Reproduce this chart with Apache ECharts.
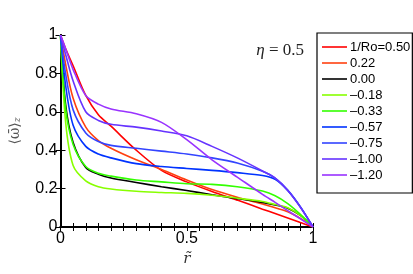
<!DOCTYPE html>
<html><head><meta charset="utf-8">
<script src="https://cdn.jsdelivr.net/npm/echarts@6/dist/echarts.min.js"></script>
<style>html,body{margin:0;padding:0;background:#fff}#c{width:413px;height:274px}</style>
</head><body><div id="c"></div>
<script>
const xs = [0, 0.02, 0.05, 0.1, 0.15, 0.2, 0.3, 0.4, 0.5, 0.6, 0.7, 0.8, 0.85, 0.9, 0.95, 1];
const names = ['1/Ro=0.50', '0.22', '0.00', '\u20130.18', '\u20130.33', '\u20130.57', '\u20130.75', '\u20131.00', '\u20131.20'];
const colors = ['#ff0000', '#ff4010', '#000000', '#88ff00', '#33ff00', '#0033ff', '#3344ff', '#6633ff', '#9933ff'];
const ro050  = [1, 0.93, 0.84, 0.685, 0.585, 0.525, 0.40, 0.295, 0.235, 0.185, 0.14, 0.093, 0.07, 0.047, 0.023, 0];
const ro022  = [1, 0.85, 0.67, 0.52, 0.45, 0.41, 0.35, 0.30, 0.245, 0.195, 0.155, 0.12, 0.10, 0.08, 0.045, 0];
const ro000  = [1, 0.64, 0.44, 0.31, 0.275, 0.255, 0.232, 0.21, 0.19, 0.168, 0.148, 0.128, 0.115, 0.098, 0.06, 0];
const rom018 = [1, 0.55, 0.32, 0.24, 0.21, 0.198, 0.186, 0.18, 0.175, 0.165, 0.15, 0.133, 0.117, 0.10, 0.06, 0];
const rom033 = [1, 0.62, 0.43, 0.315, 0.28, 0.265, 0.245, 0.235, 0.225, 0.222, 0.21, 0.187, 0.163, 0.122, 0.066, 0];
const rom057 = [1, 0.74, 0.53, 0.42, 0.38, 0.36, 0.33, 0.315, 0.305, 0.295, 0.283, 0.268, 0.248, 0.19, 0.105, 0];
const rom075 = [1, 0.80, 0.61, 0.49, 0.445, 0.425, 0.41, 0.395, 0.38, 0.36, 0.333, 0.29, 0.255, 0.193, 0.105, 0];
const rom100 = [1, 0.90, 0.76, 0.60, 0.555, 0.535, 0.52, 0.50, 0.475, 0.42, 0.36, 0.292, 0.255, 0.19, 0.103, 0];
const rom120 = [1, 0.93, 0.82, 0.685, 0.64, 0.615, 0.59, 0.545, 0.455, 0.35, 0.26, 0.17, 0.128, 0.085, 0.043, 0];
const allData = [ro050, ro022, ro000, rom018, rom033, rom057, rom075, rom100, rom120];
const xTickLabels = {'0': '0', '0.5': '0.5', '1': '1'};
const yTickLabels = ['0', '0.2', '0.4', '0.6', '0.8', '1'];

const chart = echarts.init(document.getElementById('c'), null, {renderer: 'canvas'});
const series = allData.map((d, i) => ({
  name: names[i], type: 'line', symbol: 'none', showSymbol: false, smooth: 0.3,
  xAxisIndex: 0, yAxisIndex: 0,
  lineStyle: {color: colors[i], width: 1.6}, itemStyle: {color: colors[i]},
  data: xs.map((x, j) => [x, d[j]])
}));
chart.setOption({
  animation: false,
  backgroundColor: '#fff',
  grid: {left: 56, top: 35, width: 257, height: 192, containLabel: false},
  xAxis: [
    {type: 'value', min: 0, max: 1, interval: 0.05, position: 'bottom',
     axisLine: {lineStyle: {color: '#000', width: 2}},
     axisTick: {inside: true, length: 4, lineStyle: {color: '#000', width: 1}},
     splitLine: {show: false},
     axisLabel: {color: '#000', fontSize: 16, fontFamily: 'Liberation Sans, Arial', margin: 4,
       formatter: v => { const k = String(Math.round(v * 100) / 100); return xTickLabels[k] !== undefined ? xTickLabels[k] : ''; }},
     name: 'r\u0303', nameLocation: 'middle', nameGap: 15,
     nameTextStyle: {color: '#333', fontSize: 15, fontStyle: 'italic', fontFamily: 'DejaVu Serif, Liberation Serif'}},
    {type: 'value', min: 0, max: 1, interval: 0.05, position: 'top',
     axisLine: {lineStyle: {color: '#000', width: 2}},
     axisTick: {inside: true, length: 4, lineStyle: {color: '#000', width: 1}},
     axisLabel: {show: false}, splitLine: {show: false}}
  ],
  yAxis: [
    {type: 'value', min: 0, max: 1, interval: 0.2, position: 'left',
     axisLine: {show: true, lineStyle: {color: '#000', width: 2}},
     axisTick: {show: true, inside: true, length: 5, lineStyle: {color: '#000', width: 1}},
     splitLine: {show: false},
     axisLabel: {color: '#000', fontSize: 16, fontFamily: 'Liberation Sans, Arial', margin: 3,
       formatter: v => yTickLabels[Math.round(v * 5)]},
     name: '{a|\u27E8\u03C9\u0304\u27E9}{b|z}', nameLocation: 'middle', nameGap: 38, nameRotate: 90,
     nameTextStyle: {rich: {a: {color: '#555', fontSize: 14, fontFamily: 'DejaVu Serif, Liberation Serif'},
                            b: {color: '#555', fontSize: 9, fontStyle: 'italic', fontFamily: 'DejaVu Serif, Liberation Serif', verticalAlign: 'bottom', padding: [6, 0, 0, 0]}}}},
    {type: 'value', min: 0, max: 1, interval: 0.2, position: 'right',
     axisLine: {show: true, lineStyle: {color: '#000', width: 2}},
     axisTick: {show: true, inside: true, length: 5, lineStyle: {color: '#000', width: 1}},
     axisLabel: {show: false}, splitLine: {show: false}}
  ],
  legend: {
    orient: 'vertical', left: 317, top: 33, itemWidth: 25, itemHeight: 1.6, itemGap: 2.0, icon: 'rect',
    padding: [7, 2, 11, 5], borderColor: '#000', borderWidth: 1.2, backgroundColor: '#fff',
    textStyle: {fontSize: 13, lineHeight: 14, height: 14, color: '#000', fontFamily: 'Liberation Sans, Arial', padding: [0, 0, 0, -2]},
    data: names
  },
  graphic: [{type: 'text', right: 109, top: 42,
    style: {text: '{a|\u03B7} = 0.5', fill: '#222', font: '17px "Liberation Serif", serif',
      rich: {a: {fontStyle: 'italic', fontSize: 17, fontFamily: 'Liberation Serif', fill: '#222'}}}}],
  series: series
});
</script></body></html>
